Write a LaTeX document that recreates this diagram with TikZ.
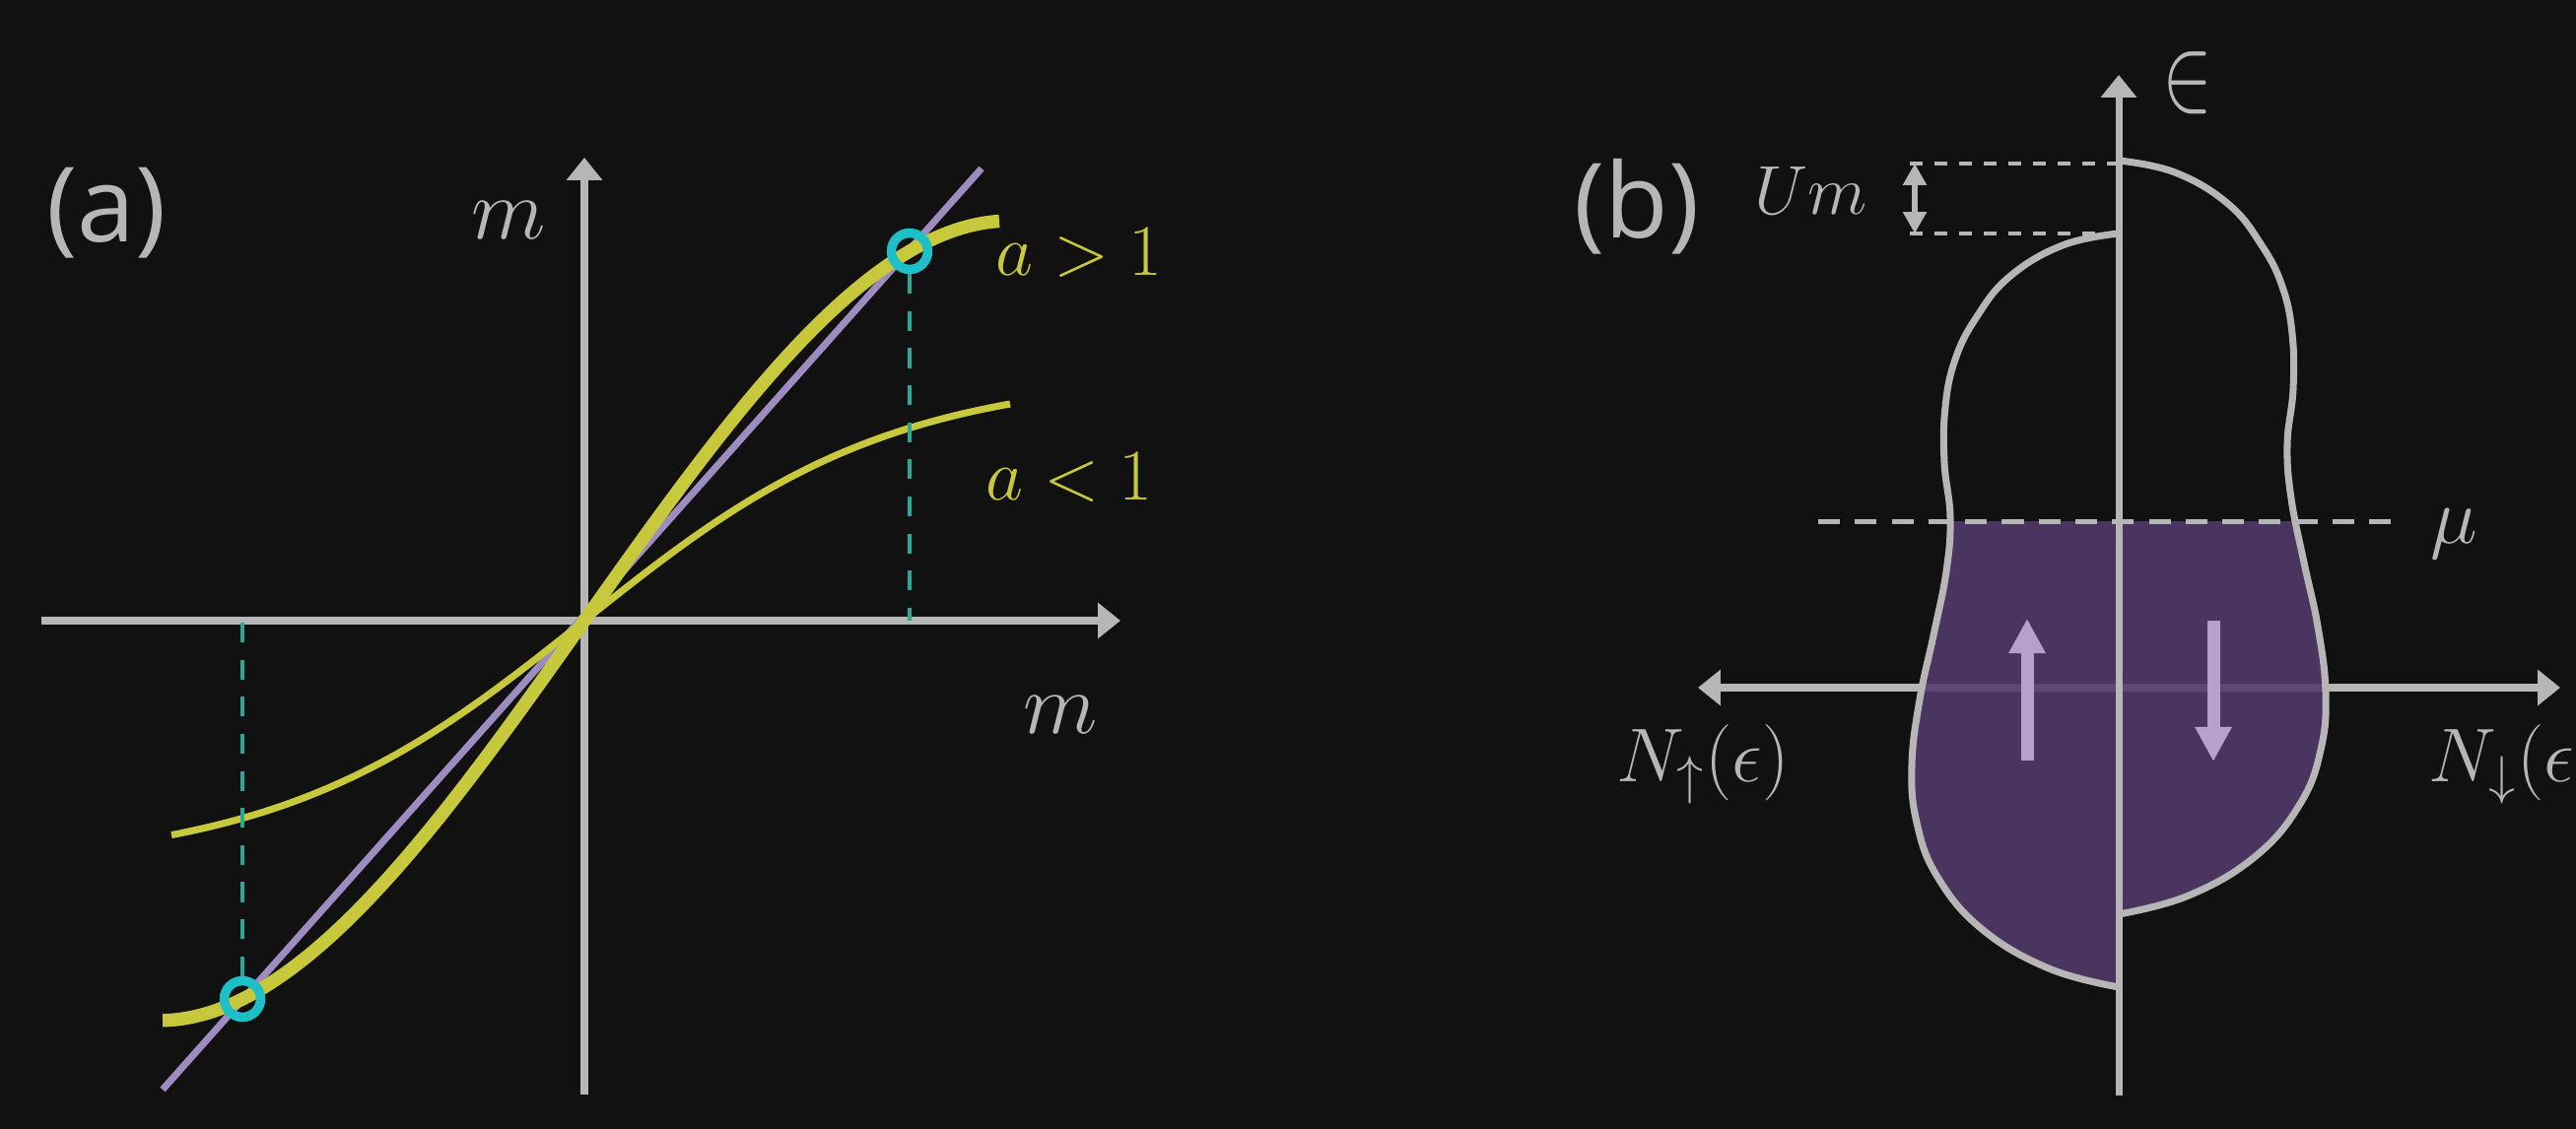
\RequirePackage{fix-cm}
\documentclass[tikz,border=0pt]{standalone}
\usepackage{fontspec}
\newfontfamily\panelfont{Open Sans}
\usetikzlibrary{arrows.meta}
\definecolor{bgc}{HTML}{111111}
\definecolor{axc}{HTML}{B6B6B6}
\definecolor{yel}{HTML}{C8C83C}
\definecolor{lav}{HTML}{9C8CC0}
\definecolor{cyn}{HTML}{1EC0C8}
\definecolor{tea}{HTML}{2AA79B}
\definecolor{dosfill}{HTML}{523B6B}
\definecolor{spinc}{HTML}{B9A0CC}
\tikzset{
  axisline/.style={draw=axc, line width=2pt},
  axtip/.tip={Triangle[length=6.5pt,width=10pt]},
  umtip/.tip={Triangle[length=6.2pt,width=6.5pt]},
  spintip/.tip={Triangle[length=10pt,width=10pt]},
  lavline/.style={draw=lav, line width=2pt},
  thickyel/.style={draw=yel, line width=3.8pt},
  thinyel/.style={draw=yel, line width=2pt},
  cring/.style={circle, draw=cyn, line width=2.7pt, minimum size=10.5pt, inner sep=0pt},
  teadash/.style={draw=tea, line width=1.4pt, dash pattern=on 5.7pt off 5pt},
  mudash/.style={draw=axc, line width=1.4pt, dash pattern=on 6.3pt off 4.3pt},
  umdash/.style={draw=axc, line width=1.3pt, dash pattern=on 3.7pt off 3.4pt},
  outline/.style={draw=axc, line width=2pt},
  spinarrow/.style={draw=spinc, line width=3.7pt, -spintip},
  lbl/.style={text=axc, inner sep=0pt},
  panellbl/.style={text=axc, inner sep=0pt, font=\panelfont\fontsize{30}{36}\selectfont},
}
\newcommand{\dosprofile}{plot[smooth, tension=0.7] coordinates {(2150,237) (2093,249) (2039,281) (2005,323) (1984,365) (1974,413) (1973,469) (1979,525) (1975,580) (1962,645) (1948,710) (1940,777) (1945,835) (1966,890) (2011,943) (2079,983) (2150,1002)}}
\begin{document}
\begin{tikzpicture}[x=0.01cm, y=-0.01cm]
\fill[bgc] (0,0) rectangle (2614,1146);
\useasboundingbox (0,0) rectangle (2614,1146);
\clip (0,0) rectangle (2614,1146);

% ---------------- panel (a) ----------------
\coordinate (aO) at (593,630);
\coordinate (aL) at (42,630);
\coordinate (aR) at (1137,630);
\coordinate (aB) at (593,1111);
\coordinate (aT) at (593,160);
\draw[axisline, -axtip] (aL) -- (aR);
\draw[axisline, -axtip] (aB) -- (aT);

\coordinate (pS) at (165,1106);
\coordinate (pE) at (996,171);
\draw[lavline] (pS) -- (pE);

\draw[thinyel] plot[domain=-419:432, samples=120, smooth] ({593+\x},{630-250*tanh(\x/314)});
\draw[thickyel] plot[domain=-428:421, samples=120, smooth] ({593+\x},{630-(141.2*(\x/100)-2.532*(\x/100)^3)});

\node[cring] (cU) at (923,255) {};
\node[cring] (cL) at (246,1014) {};
\draw[teadash] (cU.south) -- (cU.south |- aO);
\draw[teadash] (cL.north) -- (cL.north |- aO);

\node[panellbl] (pa) at (108,216) {(a)};
\node[lbl, font=\fontsize{25}{30}\selectfont] (mY) at (516,224) {$m$};
\node[lbl, font=\fontsize{25}{30}\selectfont] (mX) at (1076,726) {$m$};
\node[lbl, text=yel, anchor=base west, font=\fontsize{21}{25}\selectfont] (agt) at (1010,280) {$a>1$};
\node[lbl, text=yel, anchor=base west, font=\fontsize{21}{25}\selectfont] (alt) at (1000,508) {$a<1$};

% ---------------- panel (b) ----------------
\coordinate (bL) at (1723,698);
\coordinate (bR) at (2598,698);
\coordinate (bB) at (2150,1112);
\coordinate (bT) at (2150,76);
\draw[axisline, axtip-axtip] (bL) -- (bR);

% fills below mu
\begin{scope}
  \clip (1800,529.5) rectangle (2150,1100);
  \fill[dosfill, opacity=0.88] \dosprofile -- cycle;
\end{scope}
\begin{scope}[shift={(4300,-74)}, xscale=-1]
  \clip (1800,603.5) rectangle (2150,1100);
  \fill[dosfill, opacity=0.88] \dosprofile -- cycle;
\end{scope}

\draw[axisline, -axtip] (bB) -- (bT);

% outlines
\draw[outline] \dosprofile;
\begin{scope}[shift={(4300,-74)}, xscale=-1]
  \draw[outline] \dosprofile;
\end{scope}

% mu line
\coordinate (muL) at (1845,529.5);
\coordinate (muR) at (2439,529.5);
\draw[mudash] (muL) -- (muR);

% Um
\coordinate (umT) at (1943,166);
\coordinate (umB) at (1943,237);
\coordinate (umTe) at (2150,166);
\coordinate (umBe) at (2150,237);
\draw[umdash] (1938,166) -- (umTe);
\draw[umdash] (1938,237) -- (umBe);
\draw[draw=axc, line width=1.7pt, umtip-umtip] (umT) -- (umB);

% spin arrows
\coordinate (upS) at (2057,772);
\coordinate (upE) at (2057,628);
\coordinate (dnS) at (2246,630);
\coordinate (dnE) at (2246,773);
\draw[spinarrow] (upS) -- (upE);
\draw[spinarrow] (dnS) -- (dnE);

% labels
\node[panellbl] (pb) at (1661,210) {(b)};
\node[lbl, anchor=base west, font=\fontsize{20}{24}\selectfont] (um) at (1780,218) {$Um$};
\node[lbl, anchor=base west, font=\fontsize{23}{28}\selectfont] (mu) at (2466,552) {$\mu$};
\node[lbl, anchor=base west, font=\fontsize{22}{26}\selectfont] (nup) at (1640,794) {$N_\uparrow(\epsilon)$};
\node[lbl, anchor=base west, font=\fontsize{22}{26}\selectfont] (ndn) at (2464,794) {$N_\downarrow(\epsilon)$};
\node[lbl, xscale=0.7, font=\fontsize{31}{36}\selectfont] (eps) at (2220,84) {$\in$};
\end{tikzpicture}
\end{document}
